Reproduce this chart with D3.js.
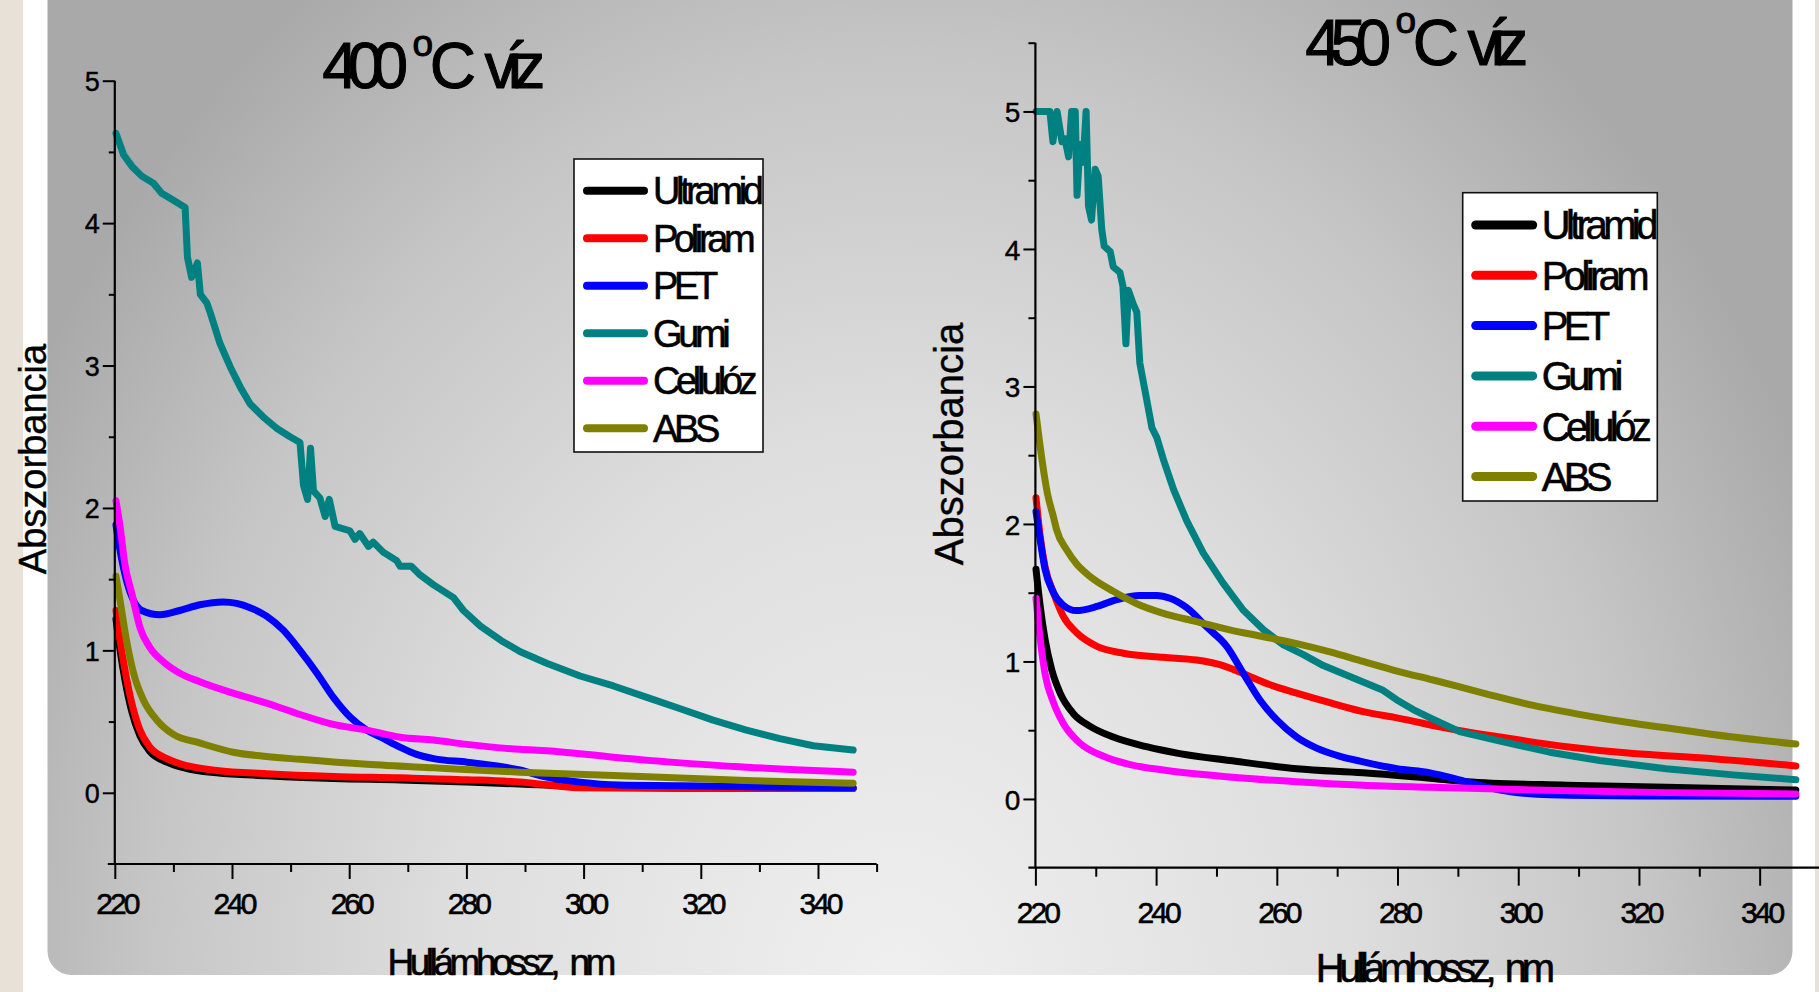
<!DOCTYPE html>
<html>
<head>
<meta charset="utf-8">
<script src="https://cdn.jsdelivr.net/npm/d3@7"></script>
<style>
  html, body { margin: 0; padding: 0; background: #ffffff; }
  svg { display: block; }
  text { font-family: "Liberation Sans", Arial, sans-serif; fill: #000; }
  .tight { stroke: #000; stroke-width: 0.6px; }
</style>
</head>
<body>
<svg id="chart" width="1819" height="992"></svg>
<script>
// ---- Series names and colours (legend order = drawing order) ----
const seriesNames = ["Ultramid", "Poliram", "PET", "Gumi", "Cellulóz", "ABS"];
const seriesColors = ["#000000", "#ff0000", "#0000ff", "#008080", "#ff00ff", "#808000"];

// ---- Axis ticks ----
const xMajorTicks = [220, 240, 260, 280, 300, 320, 340];
const xMinorTicks = [230, 250, 270, 290, 310, 330, 350];
const yMajorTicks400 = [0, 1, 2, 3, 4, 5];
const yMinorTicks400 = [0.5, 1.5, 2.5, 3.5, 4.5];
const yMajorTicks450 = [0, 1, 2, 3, 4, 5];
const yMinorTicks450 = [0.5, 1.5, 2.5, 3.5, 4.5, 5.5];

// ---- 400 °C water: [wavelength nm, absorbance] ----
const ultramid400 = [[220.2,1.22],[220.9,1.0],[221.7,0.80],[222.9,0.57],[224.3,0.40],[226.0,0.29],[228.9,0.215],[232.3,0.17],[237.4,0.14],[245.9,0.12],[257.3,0.10],[268.7,0.09],[280.1,0.075],[290,0.06],[300,0.045],[320,0.035],[346,0.03]];
const poliram400 = [[220.2,1.28],[220.9,1.07],[221.7,0.87],[222.9,0.63],[224.3,0.44],[226.0,0.32],[228.9,0.24],[232.3,0.19],[237.4,0.157],[245.9,0.134],[257.3,0.115],[268.7,0.105],[280.1,0.092],[289.1,0.075],[295,0.05],[299.4,0.035],[320,0.03],[346,0.03]];
const pet400 = [[220.2,1.88],[220.9,1.70],[222.0,1.49],[223.2,1.35],[224.6,1.28],[227.7,1.25],[231.1,1.28],[234.5,1.32],[238.5,1.34],[240.8,1.33],[243.1,1.30],[245.9,1.24],[248.8,1.14],[251.6,1.00],[254.5,0.84],[257.3,0.67],[260.2,0.53],[263.0,0.44],[265.9,0.38],[268.7,0.32],[271.5,0.27],[274.4,0.24],[280.1,0.215],[285.8,0.185],[289.1,0.16],[293.7,0.11],[299.4,0.075],[306,0.055],[316.5,0.05],[330,0.04],[346,0.035]];
const gumi400 = [[220.2,4.63],[221.5,4.48],[222.9,4.40],[224.6,4.33],[226.6,4.28],[228.0,4.21],[230.0,4.16],[232.0,4.11],[232.4,3.76],[233.1,3.62],[234.1,3.72],[234.6,3.50],[235.7,3.44],[236.3,3.37],[237.9,3.16],[239.7,2.99],[241.4,2.85],[243.1,2.73],[245.3,2.64],[247.6,2.56],[249.9,2.50],[251.6,2.46],[252.2,2.16],[252.9,2.06],[253.4,2.42],[253.9,2.12],[255.0,2.07],[255.9,1.94],[256.6,2.06],[257.6,1.87],[260.1,1.84],[261.0,1.78],[261.8,1.82],[263.3,1.73],[264.1,1.76],[265.8,1.69],[268.1,1.63],[268.7,1.59],[270.6,1.59],[272.1,1.53],[274.4,1.46],[277.8,1.37],[279.5,1.28],[282.4,1.17],[285.9,1.07],[289.2,0.99],[293.7,0.91],[299.4,0.82],[305.1,0.75],[310.8,0.67],[316.5,0.59],[322.1,0.51],[327.8,0.44],[333.5,0.38],[339.2,0.33],[346.0,0.30]];
const cellulose400 = [[220.2,2.05],[220.9,1.87],[221.7,1.61],[222.9,1.40],[224.3,1.16],[226.0,1.02],[228.3,0.92],[231.1,0.84],[234.5,0.78],[240.2,0.70],[245.9,0.63],[251.6,0.55],[257.3,0.48],[263.0,0.44],[268.7,0.39],[274.4,0.37],[280.1,0.34],[289.1,0.305],[293.7,0.295],[305.1,0.25],[316.5,0.21],[327.8,0.18],[346,0.145]];
const abs400 = [[220.2,1.52],[220.9,1.35],[222.0,1.07],[223.2,0.84],[224.9,0.65],[227.2,0.51],[230.0,0.41],[234.5,0.35],[240.2,0.285],[245.9,0.255],[251.6,0.235],[263.0,0.20],[274.4,0.175],[289.1,0.145],[305.1,0.122],[327.8,0.086],[346,0.067]];

// ---- 450 °C water: [wavelength nm, absorbance] ----
const ultramid450 = [[220.1,1.67],[220.8,1.40],[221.6,1.16],[222.7,0.94],[224.1,0.77],[226.3,0.62],[229.0,0.53],[232.9,0.45],[238.4,0.38],[243.9,0.33],[252.2,0.28],[263.3,0.22],[274.3,0.19],[285.4,0.15],[291.4,0.126],[308.0,0.10],[324.5,0.085],[346,0.065]];
const poliram450 = [[220.1,2.19],[220.8,1.91],[221.6,1.69],[223.0,1.50],[224.6,1.33],[226.8,1.21],[230.2,1.11],[234.6,1.06],[241.2,1.03],[246.7,1.01],[251.1,0.97],[254.5,0.91],[258.9,0.83],[263.3,0.77],[268.8,0.70],[274.3,0.635],[279.9,0.59],[288.7,0.51],[297.0,0.45],[308.0,0.38],[319.1,0.33],[330.1,0.30],[346,0.24]];
const pet450 = [[220.1,2.09],[220.8,1.88],[221.6,1.67],[223.0,1.50],[224.6,1.41],[226.8,1.37],[230.2,1.40],[233.5,1.45],[237.3,1.48],[240.1,1.48],[242.3,1.46],[245.1,1.39],[248.4,1.25],[251.7,1.11],[254.5,0.91],[257.2,0.72],[260.0,0.575],[263.3,0.45],[266.6,0.37],[270.5,0.31],[274.3,0.27],[279.9,0.22],[285.4,0.19],[291,0.13],[297.0,0.065],[305.2,0.03],[320,0.022],[346,0.02]];
const gumi450 = [[220.1,5.0],[222.4,5.0],[222.9,4.78],[223.6,5.0],[224.4,4.78],[224.9,4.80],[225.5,4.67],[226.0,5.0],[226.6,5.0],[226.9,4.39],[227.4,4.76],[227.9,4.63],[228.4,5.0],[228.8,4.31],[229.3,4.21],[229.9,4.58],[230.4,4.53],[231.0,4.14],[231.4,4.02],[232.4,3.98],[232.9,3.87],[234.0,3.83],[234.5,3.73],[235.0,3.31],[235.4,3.70],[236.2,3.60],[236.8,3.54],[237.3,3.17],[238.2,2.96],[239.3,2.70],[240.1,2.63],[241.2,2.47],[242.9,2.25],[245.1,2.02],[247.8,1.79],[251.1,1.57],[254.5,1.37],[257.8,1.23],[261.1,1.12],[264.4,1.05],[267.7,0.97],[271.0,0.91],[274.3,0.85],[277.6,0.79],[279.9,0.72],[282.6,0.65],[285.4,0.59],[290.3,0.49],[297.0,0.42],[305.2,0.34],[313.5,0.28],[324.5,0.22],[335.6,0.175],[346,0.14]];
const cellulose450 = [[220.1,1.46],[220.8,1.16],[221.6,0.91],[223.0,0.70],[224.6,0.55],[227.4,0.405],[231.3,0.31],[235.7,0.25],[241.2,0.21],[252.2,0.16],[263.3,0.125],[274.3,0.10],[285.4,0.085],[302.5,0.065],[324.5,0.046],[346,0.036]];
const abs450 = [[220.1,2.80],[220.8,2.56],[221.6,2.32],[222.0,2.22],[223.0,2.05],[223.5,1.96],[225.2,1.81],[226.8,1.71],[229.0,1.62],[232.9,1.51],[236.8,1.42],[241.2,1.35],[246.7,1.29],[252.2,1.23],[257.8,1.18],[263.3,1.13],[268.8,1.07],[274.3,1.00],[279.9,0.93],[285.9,0.865],[294.2,0.77],[302.5,0.68],[310.8,0.61],[319.1,0.55],[327.4,0.50],[335.6,0.45],[346,0.40]];

const series400 = [ultramid400, poliram400, pet400, gumi400, cellulose400, abs400];
const series450 = [ultramid450, poliram450, pet450, gumi450, cellulose450, abs450];

const svg = d3.select("#chart");

// ---- Slide background ----
const defs = svg.append("defs");
const grad = defs.append("radialGradient")
  .attr("id", "panelGrad")
  .attr("gradientUnits", "userSpaceOnUse")
  .attr("cx", 900).attr("cy", 1000).attr("r", 1000)
  .attr("gradientTransform", "translate(900,1000) scale(1,1.25) translate(-900,-1000)");
[[0, "#f0f0f0"], [0.45, "#dedede"], [0.75, "#c6c6c6"], [1, "#a9a9a9"]]
  .forEach(([o, c]) => grad.append("stop").attr("offset", o).attr("stop-color", c));

svg.append("rect").attr("width", 1819).attr("height", 992).attr("fill", "#ffffff");
svg.append("rect").attr("x", 0).attr("y", 0).attr("width", 23).attr("height", 992).attr("fill", "#e7e1d7");
svg.append("rect").attr("x", 1815).attr("y", 0).attr("width", 4).attr("height", 992).attr("fill", "#e7e1d7");
svg.append("rect").attr("x", 47.5).attr("y", -40).attr("width", 1745).attr("height", 1015)
  .attr("rx", 24).attr("fill", "url(#panelGrad)");

// Tightly tracked text anchored at (x, y)
function tightText(parent, x, y, str, size, track, anchor) {
  return parent.append("text")
    .attr("class", "tight")
    .attr("x", x).attr("y", y)
    .attr("text-anchor", anchor || "start")
    .style("font-size", size + "px")
    .style("letter-spacing", track + "em")
    .text(str);
}

function drawPanel(cfg) {
  const g = svg.append("g");
  const x = d3.scaleLinear().domain([220, 350]).range(cfg.xRange);
  const y = d3.scaleLinear().domain(cfg.yDomain).range(cfg.yRange);
  const y0 = y(cfg.yDomain[0]);

  // Curves
  const line = d3.line().x(d => x(d[0])).y(d => y(d[1]));
  cfg.series.forEach((data, i) => {
    g.append("path")
      .attr("d", line.curve(seriesNames[i] === "Gumi" ? d3.curveLinear : d3.curveMonotoneX)(data))
      .attr("fill", "none")
      .attr("stroke", seriesColors[i])
      .attr("stroke-width", cfg.lineWidth)
      .attr("stroke-linecap", "round")
      .attr("stroke-linejoin", "round");
  });

  // X axis
  const xMinor = g.append("g").attr("transform", `translate(0,${y0})`)
    .call(d3.axisBottom(x).tickValues(xMinorTicks).tickSize(cfg.minorTick).tickFormat("").tickSizeOuter(0));
  const xMajor = g.append("g").attr("transform", `translate(0,${y0})`)
    .call(d3.axisBottom(x).tickValues(xMajorTicks).tickSize(cfg.xMajorTick).tickPadding(cfg.xPad)
      .tickFormat(d3.format("d")).tickSizeOuter(0));
  xMajor.selectAll(".tick text")
    .attr("class", "tight")
    .attr("dx", "0.05em")
    .style("letter-spacing", "-0.1em")
    .style("font-size", cfg.xTickFont + "px")
    .style("font-family", "'Liberation Sans', Arial, sans-serif");

  // Y axis
  const yMinor = g.append("g").attr("transform", `translate(${cfg.xRange[0]},0)`)
    .call(d3.axisLeft(y).tickValues(cfg.yMinor).tickSize(cfg.minorTick - 2).tickFormat("").tickSizeOuter(0));
  const yMajor = g.append("g").attr("transform", `translate(${cfg.xRange[0]},0)`)
    .call(d3.axisLeft(y).tickValues(cfg.yMajor).tickSize(cfg.yMajorTick).tickPadding(3)
      .tickFormat(d3.format("d")).tickSizeOuter(0));
  yMajor.selectAll(".tick text")
    .attr("x", -(cfg.yMajorTick + 3))
    .attr("dy", "0.36em")
    .style("font-size", cfg.yTickFont + "px")
    .style("stroke", "#000").style("stroke-width", "0.4px")
    .style("font-family", "'Liberation Sans', Arial, sans-serif");

  [xMinor, xMajor, yMinor, yMajor].forEach(a => {
    a.select(".domain").remove();
    a.selectAll(".tick line").attr("stroke", "#000").attr("stroke-width", 2);
  });

  // Axis lines
  g.append("line").attr("x1", x(220) - 7).attr("x2", x(350)).attr("y1", y0).attr("y2", y0)
    .attr("stroke", "#000").attr("stroke-width", 2.2);
  g.append("line").attr("x1", x(220)).attr("x2", x(220)).attr("y1", y0).attr("y2", y(cfg.yDomain[1]))
    .attr("stroke", "#000").attr("stroke-width", 2.2);

  // Axis titles
  g.append("text")
    .attr("transform", `translate(${cfg.yTitle[0]},${cfg.yTitle[1]}) rotate(-90)`)
    .attr("text-anchor", "middle")
    .style("font-size", cfg.yTitleFont + "px")
    .style("stroke", "#000").style("stroke-width", "0.4px")
    .text("Abszorbancia");
  tightText(g, (x(220) + x(350)) / 2 + cfg.xTitleShift, cfg.xTitleBase, "Hullámhossz, nm",
    cfg.xTitleFont, cfg.xTitleTrack, "middle")
    .style("word-spacing", "0.2em");

  // Chart title: temperature with a raised "o" as the degree sign
  const t = g.append("text")
    .attr("class", "tight")
    .attr("x", cfg.title[0]).attr("y", cfg.title[1])
    .style("font-size", "64px")
    .style("letter-spacing", "-10.5px")
    .style("stroke-width", "1px");
  t.append("tspan").text(cfg.temp);
  t.append("tspan").attr("dx", 15).attr("dy", -32).style("font-size", "37px").text("o");
  t.append("tspan").attr("dx", 7).attr("dy", 32).text("C");
  t.append("tspan").attr("dx", 19).text("víz");

  // Legend
  const L = cfg.legend;
  const lg = g.append("g");
  lg.append("rect").attr("x", L.x).attr("y", L.y).attr("width", L.w).attr("height", L.h)
    .attr("fill", "#ffffff").attr("stroke", "#111").attr("stroke-width", 1.6);
  seriesNames.forEach((name, i) => {
    const cy = L.firstRow + i * L.step;
    lg.append("line").attr("x1", L.x + 13).attr("x2", L.x + 70).attr("y1", cy).attr("y2", cy)
      .attr("stroke", seriesColors[i]).attr("stroke-width", L.sw).attr("stroke-linecap", "round");
    tightText(lg, L.x + 79, cy + L.font * 0.36, name, L.font, -0.115, "start");
  });
}

drawPanel({
  temp: "400",
  series: series400,
  xRange: [114.8, 876.6],
  yDomain: [-0.5, 5],
  yRange: [864, 80.7],
  yMajor: yMajorTicks400,
  yMinor: yMinorTicks400,
  lineWidth: 7,
  minorTick: 8,
  xMajorTick: 15,
  yMajorTick: 12,
  xPad: 14,
  xTickFont: 30,
  yTickFont: 27,
  yTitle: [46, 459],
  yTitleFont: 38,
  xTitleShift: 4,
  xTitleBase: 975,
  xTitleFont: 37,
  xTitleTrack: -0.12,
  title: [322.3, 88],
  legend: { x: 574, y: 159, w: 189, h: 293, firstRow: 190.7, step: 47.5, sw: 8, font: 38 }
});

drawPanel({
  temp: "450",
  series: series450,
  xRange: [1035.4, 1820],
  yDomain: [-0.5, 5.5],
  yRange: [867.7, 42.7],
  yMajor: yMajorTicks450,
  yMinor: yMinorTicks450,
  lineWidth: 7,
  minorTick: 9,
  xMajorTick: 18,
  yMajorTick: 12,
  xPad: 16,
  xTickFont: 30,
  yTickFont: 28,
  yTitle: [963, 444],
  yTitleFont: 40,
  xTitleShift: 5,
  xTitleBase: 982,
  xTitleFont: 40,
  xTitleTrack: -0.135,
  title: [1305.3, 65],
  legend: { x: 1462.7, y: 192.7, w: 194.6, h: 308.3, firstRow: 225, step: 50.3, sw: 9, font: 40 }
});
</script>
</body>
</html>
